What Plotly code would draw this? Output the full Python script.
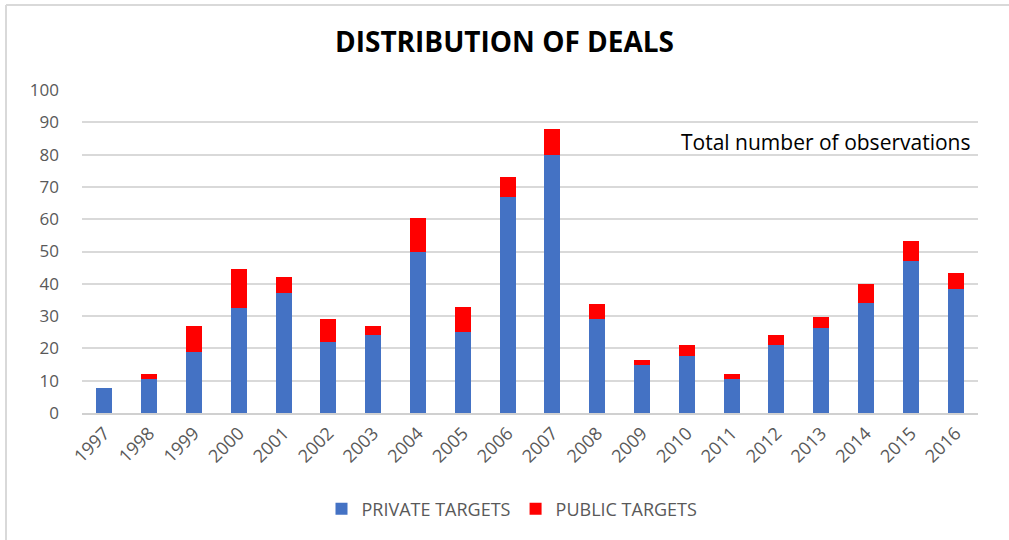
import plotly.graph_objects as go

years = [str(y) for y in range(1997, 2017)]
private_targets = [7.6, 10.5, 19, 32.6, 37, 22, 24, 50, 25, 67, 80, 29, 15, 17.7, 10.5, 21.2, 26.2, 34.1, 47, 38.3]
public_targets = [0, 1.6, 8, 12.1, 5, 7.1, 2.8, 10.5, 7.7, 6.2, 7.8, 4.9, 1.3, 3.5, 1.6, 2.9, 3.6, 5.7, 6.3, 5.1]
y_ticks = list(range(0, 101, 10))

W, H = 1009, 540
L, R, T, B = 82, 31, 90, 127

font_family = "'Open Sans', sans-serif"

fig = go.Figure()
fig.add_trace(go.Bar(x=years, y=private_targets, name="PRIVATE TARGETS",
                     marker=dict(color="#4472C4", line=dict(width=0))))
fig.add_trace(go.Bar(x=years, y=public_targets, name="PUBLIC TARGETS",
                     marker=dict(color="#FF0000", line=dict(width=0))))

pw = W - L - R
ph = H - T - B

fig.update_layout(
    width=W, height=H,
    barmode="stack",
    bargap=0.643,
    paper_bgcolor="white",
    plot_bgcolor="white",
    margin=dict(l=L, r=R, t=T, b=B, autoexpand=False),
    font=dict(family=font_family, color="#595959", size=17),
    title=dict(text="<b>DISTRIBUTION OF DEALS</b>", x=0.5, xanchor="center",
               y=1 - 42 / H, yanchor="middle",
               font=dict(size=28, color="black", family=font_family)),
    xaxis=dict(tickangle=-45, tickfont=dict(size=18, color="#595959"),
               showgrid=False, showline=True, linecolor="#D0D0D0", linewidth=1.5,
               ticks="", ticklabelstandoff=1),
    yaxis=dict(range=[0, 100], tickvals=y_ticks, tickfont=dict(size=17, color="#595959"),
               showgrid=True, gridcolor="#D9D9D9", gridwidth=1.5,
               zeroline=False, showline=False, ticks="", ticklabelstandoff=22),
    legend=dict(orientation="h", x=(512 - L) / pw, xanchor="center", y=-(509 - (H - B)) / ph,
                yanchor="middle", font=dict(size=18, color="#595959"),
                traceorder="normal", itemwidth=30, tracegroupgap=0),
    annotations=[dict(text="Total number of observations", xref="paper", yref="paper",
                      x=(972 - L) / pw, y=(H - B - 142) / ph, xanchor="right", yanchor="middle",
                      showarrow=False, font=dict(size=21, color="black", family=font_family))],
    shapes=[
        dict(type="line", xref="paper", yref="paper",
             x0=(6 - L) / pw, x1=(6 - L) / pw, y0=(H - B - 5) / ph, y1=(H - B - 545) / ph,
             line=dict(color="#D9D9D9", width=2)),
        dict(type="line", xref="paper", yref="paper",
             x0=(6 - L) / pw, x1=(1015 - L) / pw, y0=(H - B - 5) / ph, y1=(H - B - 5) / ph,
             line=dict(color="#D9D9D9", width=2)),
    ],
)

fig.write_html("out.html", config={"displayModeBar": False},
               post_script="document.body.style.margin='0';document.body.style.padding='0';")
